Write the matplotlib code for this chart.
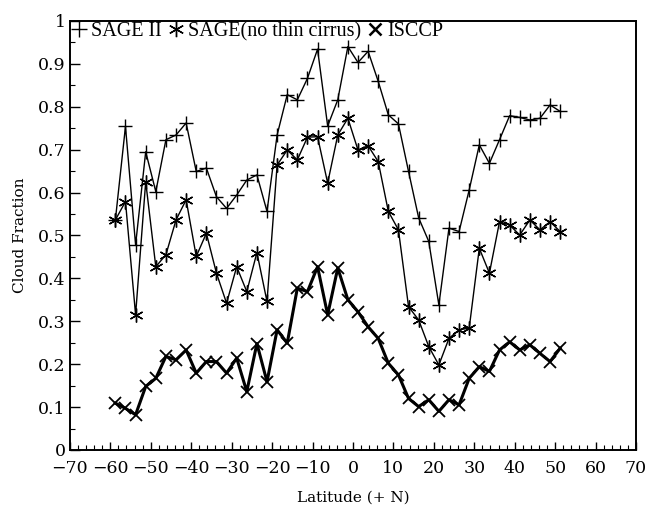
import numpy as np
import matplotlib.pyplot as plt
from matplotlib.lines import Line2D
from matplotlib.ticker import MultipleLocator

# latitude bins (2.5 deg), -58.75 .. 51.25
lat = [-58.75, -56.25, -53.75, -51.25, -48.75, -46.25, -43.75, -41.25, -38.75,
       -36.25, -33.75, -31.25, -28.75, -26.25, -23.75, -21.25, -18.75, -16.25,
       -13.75, -11.25, -8.75, -6.25, -3.75, -1.25, 1.25, 3.75, 6.25, 8.75,
       11.25, 13.75, 16.25, 18.75, 21.25, 23.75, 26.25, 28.75, 31.25, 33.75,
       36.25, 38.75, 41.25, 43.75, 46.25, 48.75, 51.25]

sage2 = [0.536, 0.754, 0.478, 0.695, 0.602, 0.723, 0.734, 0.762, 0.649,
         0.657, 0.590, 0.563, 0.594, 0.629, 0.641, 0.556, 0.734, 0.828,
         0.816, 0.866, 0.934, 0.755, 0.816, 0.940, 0.903, 0.929, 0.859, 0.781,
         0.760, 0.649, 0.541, 0.486, 0.338, 0.517, 0.509, 0.606, 0.711, 0.668,
         0.723, 0.779, 0.775, 0.769, 0.773, 0.804, 0.789]

sage_nocirrus = [0.536, 0.579, 0.315, 0.625, 0.427, 0.455, 0.536, 0.583, 0.451,
                 0.505, 0.412, 0.342, 0.427, 0.369, 0.460, 0.346, 0.664, 0.699,
                 0.676, 0.729, 0.730, 0.622, 0.734, 0.773, 0.699, 0.709, 0.672,
                 0.556, 0.513, 0.334, 0.303, 0.241, 0.198, 0.260, 0.280, 0.284,
                 0.470, 0.412, 0.532, 0.524, 0.501, 0.536, 0.513, 0.532, 0.509]

isccp = [0.109, 0.097, 0.082, 0.148, 0.167, 0.218, 0.210, 0.233, 0.179,
         0.206, 0.206, 0.179, 0.214, 0.136, 0.248, 0.159, 0.280, 0.249,
         0.377, 0.369, 0.427, 0.315, 0.424, 0.350, 0.322, 0.287, 0.260,
         0.202, 0.175, 0.120, 0.101, 0.117, 0.090, 0.117, 0.105, 0.167,
         0.194, 0.183, 0.233, 0.252, 0.233, 0.245, 0.225, 0.206, 0.237]

ytick_labels = ['0', '0.1', '0.2', '0.3', '0.4', '0.5', '0.6', '0.7', '0.8', '0.9', '1']
names = ['SAGE II', 'SAGE(no thin cirrus)', 'ISCCP']

star = (6, 2, 0)

fig = plt.figure(figsize=(6.47, 5.09), dpi=100)
ax = fig.add_axes([0.108, 0.116, 0.875, 0.843])

ax.plot(lat, sage2, color='k', lw=1.0, marker='+', ms=10.5, mew=1.0)
ax.plot(lat, sage_nocirrus, color='k', lw=1.0, marker=star, ms=10, mew=1.0)
ax.plot(lat, isccp, color='k', lw=2.2, marker='x', ms=9, mew=1.3)

ax.set_xlim(-70, 70)
ax.set_ylim(0, 1)
ax.xaxis.set_major_locator(MultipleLocator(10))
ax.xaxis.set_minor_locator(MultipleLocator(2))
ax.yaxis.set_minor_locator(MultipleLocator(0.05))
ax.set_yticks(np.arange(0, 1.01, 0.1))
ax.set_yticklabels(ytick_labels)

ax.tick_params(which='major', direction='in', length=7, width=1.0,
               labelsize=12.5, pad=3)
ax.tick_params(which='minor', direction='in', length=3.5, width=0.8)
ax.tick_params(axis='x', which='major', length=6, pad=7)
for lbl in ax.get_xticklabels() + ax.get_yticklabels():
    lbl.set_family('DejaVu Serif')
for sp in ax.spines.values():
    sp.set_linewidth(1.4)

ax.set_ylabel('Cloud Fraction', family='DejaVu Serif', fontsize=11, labelpad=8)
ax.set_xlabel('Latitude (+ N)', family='DejaVu Serif', fontsize=11, labelpad=10)

handles = [Line2D([], [], color='k', ls='none', marker='+', ms=12, mew=1.0),
           Line2D([], [], color='k', ls='none', marker=star, ms=11, mew=1.0),
           Line2D([], [], color='k', ls='none', marker='x', ms=9, mew=1.8)]
leg = ax.legend(handles, names, loc='upper left',
                ncol=3, frameon=False, handlelength=0.8, handletextpad=0.2,
                columnspacing=0.3, borderaxespad=0.0, borderpad=0.05,
                prop={'family': 'Liberation Serif', 'size': 14.5})
for t in leg.get_texts():
    t.set_fontstretch('expanded')

fig.savefig('out.png', dpi=100)
